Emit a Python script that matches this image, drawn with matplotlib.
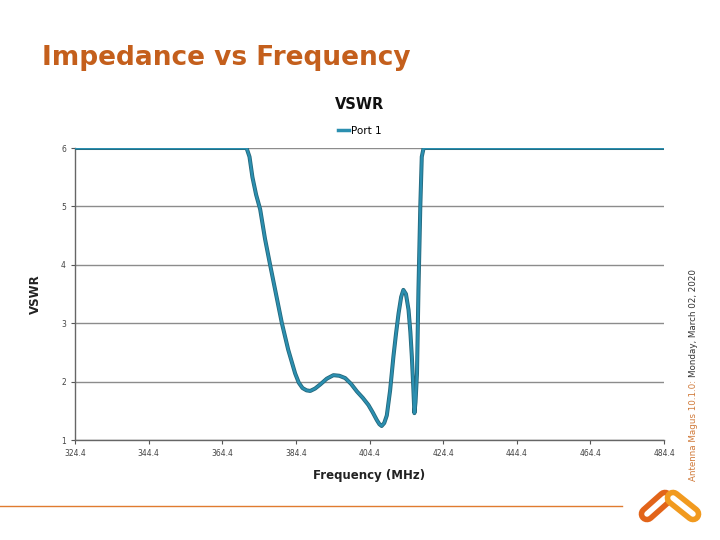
import numpy as np
import matplotlib.pyplot as plt
from matplotlib.lines import Line2D
from matplotlib.transforms import offset_copy

# VSWR curve (Port 1)
freq = [324.4, 360.0, 371.0, 371.8, 372.6, 373.6, 374.7, 376.0, 377.4, 379.0,
        380.6, 382.3, 384.2, 385.2, 386.2, 387.3, 388.3, 389.6, 391.0, 392.8,
        394.6, 396.2, 397.8, 399.4, 401.0, 402.6, 404.1, 405.3, 406.4, 407.1,
        407.7, 408.4, 409.1, 410.0, 410.9, 411.6, 412.3, 413.0, 413.6, 414.3,
        415.0, 415.5, 415.9, 416.3, 416.6, 416.9, 417.3, 417.7, 418.2, 418.6,
        419.1, 430.0, 484.4]
vswr = [6.0, 6.0, 6.0, 5.85, 5.5, 5.2, 4.95, 4.45, 4.0, 3.5,
        3.0, 2.55, 2.14, 1.98, 1.89, 1.85, 1.84, 1.88, 1.95, 2.05,
        2.11, 2.10, 2.06, 1.96, 1.83, 1.72, 1.60, 1.47, 1.34, 1.27,
        1.24, 1.29, 1.42, 1.85, 2.43, 2.82, 3.17, 3.45, 3.57, 3.50,
        3.23, 2.85, 2.43, 1.90, 1.46, 1.65, 2.14, 3.57, 5.0, 5.85,
        6.0, 6.0, 6.0]

xticks = [324.4, 344.4, 364.4, 384.4, 404.4, 424.4, 444.4, 464.4, 484.4]
yticks = [1, 2, 3, 4, 5, 6]

orange = '#c45f1c'
line_col = '#2b8fb0'

fig = plt.figure(figsize=(7.2, 5.4), dpi=100)

# slide title
fig.text(42 / 720, 1 - 58 / 540, 'Impedance vs Frequency', color=orange,
         fontsize=19, fontweight='bold', va='center', ha='left')

ax = fig.add_axes([75 / 720, 100 / 540, 589 / 720, 292 / 540])
ax.plot(freq, vswr, color='#24687c', lw=2.9, solid_joinstyle='round', zorder=3)
ax.plot(freq, vswr, color=line_col, lw=1.7, solid_joinstyle='round', zorder=4)

ax.set_xlim(324.4, 484.4)
ax.set_ylim(1, 6)
ax.set_xticks(xticks)
ax.set_xticklabels([f'{t:.1f}' for t in xticks], fontsize=5.5, color='#444444')
ax.set_yticks(yticks)
ax.set_yticklabels([str(t) for t in yticks], fontsize=5.5, color='#444444')
ax.tick_params(axis='both', direction='out', length=3, width=0.8, color='#555555')
ax.grid(axis='y', color='#8c8c8c', lw=1.0)
ax.set_axisbelow(True)
for s in ['top', 'right']:
    ax.spines[s].set_visible(False)
for s in ['left', 'bottom']:
    ax.spines[s].set_color('#666666')
    ax.spines[s].set_linewidth(1.0)

ax.set_xlabel('Frequency (MHz)', fontsize=8.5, fontweight='bold', color='#222222', labelpad=8)
ax.set_ylabel('VSWR', fontsize=8.5, fontweight='bold', color='#222222', labelpad=14)

fig.text(360 / 720, 1 - 104 / 540, 'VSWR', fontsize=10.5, fontweight='bold',
         ha='center', va='center', color='#111111')
leg = ax.legend([Line2D([0], [0], color=line_col, lw=2.5)], ['Port 1'],
                loc='center', bbox_to_anchor=(360 / 720, 1 - 131 / 540),
                bbox_transform=fig.transFigure, frameon=False, fontsize=7.5,
                handlelength=1.0, handletextpad=0.2)

# rotated footer text on the right, second part placed right after the first
t1 = fig.text(693 / 720, 1 - 481 / 540, 'Antenna Magus 10.1.0: ', color='#d07a3a',
              fontsize=6.3, rotation=90, ha='center', va='bottom')
fig.canvas.draw()
h = t1.get_window_extent().height
fig.text(693 / 720, 1 - 481 / 540, 'Monday, March 02, 2020', color='#333333',
         fontsize=6.3, rotation=90, ha='center', va='bottom',
         transform=offset_copy(fig.transFigure, fig=fig, y=h, units='dots'))

# bottom rule and logo
deco = fig.add_axes([0, 0, 1, 1], zorder=-1)
deco.set_xlim(0, 720)
deco.set_ylim(540, 0)
deco.axis('off')
deco.plot([0, 622], [506, 506], color='#e07b30', lw=1.0)
deco.plot([647, 665], [514, 498], color='#e2641a', lw=12, solid_capstyle='round')
deco.plot([647, 665], [514, 498], color='white', lw=4, solid_capstyle='round')
deco.plot([673, 693], [498, 514], color='#f19a1f', lw=12, solid_capstyle='round')
deco.plot([673, 693], [498, 514], color='white', lw=4, solid_capstyle='round')

fig.savefig('out.png', dpi=100)
